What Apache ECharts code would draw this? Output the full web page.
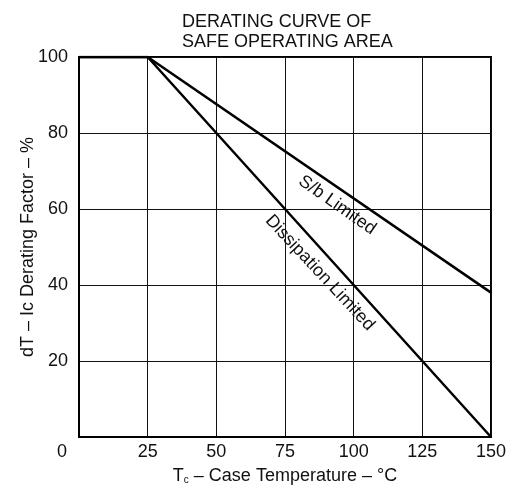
<!DOCTYPE html>
<html>
<head>
<meta charset="utf-8">
<script src="https://cdn.jsdelivr.net/npm/echarts@6/dist/echarts.min.js"></script>
<style>
html,body{margin:0;padding:0;background:#fff;}
#c{width:513px;height:492px;}
</style>
</head>
<body>
<div id="c"></div>
<script>
const xTicks = [0, 25, 50, 75, 100, 125, 150];
const yTicks = [0, 20, 40, 60, 80, 100];
const sbTemp = [0, 25, 150];
const sbFactor = [100, 100, 38];
const dissTemp = [0, 25, 150];
const dissFactor = [100, 100, 0];
const titleLines = ['DERATING CURVE OF', 'SAFE OPERATING AREA'];
const sbLabel = 'S/b Limited';
const dissLabel = 'Dissipation Limited';

const FONT = '"Liberation Sans", Arial, sans-serif';
const chart = echarts.init(document.getElementById('c'), null, {renderer: 'canvas'});

const zip = (xs, ys) => xs.map((x, i) => [x, ys[i]]);

const annot = (rot) => ({
  show: true, position: 'inside', formatter: '{b}', rotate: rot,
  fontFamily: FONT, fontSize: 18, color: '#111',
  textBorderWidth: 0, textBorderColor: 'transparent', opacity: 1
});

chart.setOption({
  animation: false,
  backgroundColor: '#fff',
  title: {
    text: titleLines.join('\n'),
    left: 177,
    top: 7,
    textStyle: {fontFamily: FONT, fontSize: 18, fontWeight: 'normal', color: '#111', lineHeight: 20}
  },
  grid: {left: 79, right: 22, top: 57, bottom: 55, show: true, borderColor: '#000', borderWidth: 2, backgroundColor: 'transparent'},
  xAxis: {
    type: 'value', min: 0, max: 150, interval: 25,
    name: 'T{sub|c} – Case Temperature – °C',
    nameLocation: 'middle', nameGap: 30,
    nameTextStyle: {fontFamily: FONT, fontSize: 18, color: '#111',
      rich: {sub: {fontFamily: FONT, fontSize: 10, color: '#111', verticalAlign: 'bottom', padding: [8, 0, 0, 0]}}},
    axisLine: {show: true, lineStyle: {color: '#000', width: 2}},
    axisTick: {show: false},
    splitLine: {show: true, lineStyle: {color: '#111', width: 1}},
    axisLabel: {
      fontFamily: FONT, fontSize: 18, color: '#111', margin: 6,
      formatter: v => v === 0 ? '{z|0}' : String(v),
      rich: {z: {fontFamily: FONT, fontSize: 18, color: '#111', padding: [0, 34, 0, 0]}}
    }
  },
  yAxis: {
    type: 'value', min: 0, max: 100, interval: 20,
    name: 'dT – Ic Derating Factor – %',
    nameLocation: 'middle', nameGap: 42, nameRotate: 90, nameMoveOverlap: false,
    nameTextStyle: {fontFamily: FONT, fontSize: 18, color: '#111'},
    axisLine: {show: true, lineStyle: {color: '#000', width: 2}},
    axisTick: {show: false},
    splitLine: {show: true, lineStyle: {color: '#111', width: 1}},
    axisLabel: {
      fontFamily: FONT, fontSize: 18, color: '#111', margin: 11,
      formatter: v => v === 0 ? '' : String(v)
    }
  },
  series: [
    {type: 'line', data: zip(sbTemp, sbFactor), symbol: 'none', lineStyle: {color: '#000', width: 2.5}},
    {type: 'line', data: zip(dissTemp, dissFactor), symbol: 'none', lineStyle: {color: '#000', width: 2.5}},
    {type: 'scatter', symbolSize: 0, silent: true, itemStyle: {color: '#111'},
      data: [{value: [94, 61], name: sbLabel}],
      label: annot(-35)},
    {type: 'scatter', symbolSize: 0, silent: true, itemStyle: {color: '#111'},
      data: [{value: [87.7, 43.2], name: dissLabel}],
      label: annot(-47)}
  ]
});
</script>
</body>
</html>
